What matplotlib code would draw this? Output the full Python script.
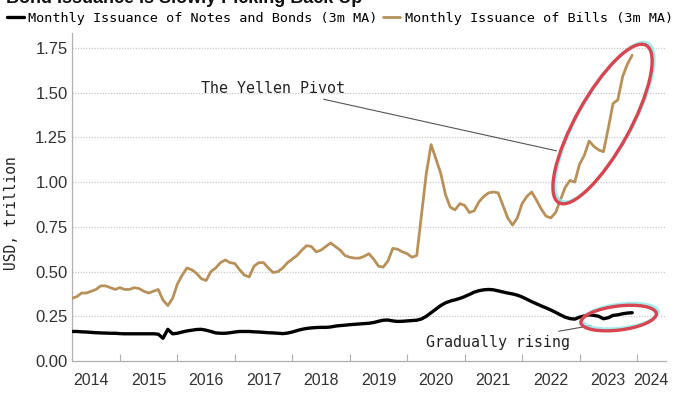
import matplotlib
matplotlib.use("Agg")
import matplotlib.pyplot as plt
import numpy as np
from matplotlib.patches import Ellipse
from matplotlib.transforms import IdentityTransform

# monthly 3m MA issuance, USD trillion, Mar 2014 .. Dec 2023
start_year, start_month = 2014, 3

bills = [
    # 2014 (Mar-Dec)
    0.35, 0.36, 0.38, 0.38, 0.39, 0.40, 0.42, 0.42, 0.41, 0.40,
    # 2015
    0.41, 0.40, 0.40, 0.41, 0.405, 0.39, 0.38, 0.39, 0.40, 0.34, 0.31, 0.35,
    # 2016
    0.43, 0.48, 0.52, 0.51, 0.49, 0.46, 0.45, 0.50, 0.52, 0.55, 0.565, 0.55,
    # 2017
    0.545, 0.51, 0.48, 0.47, 0.53, 0.55, 0.55, 0.52, 0.495, 0.50, 0.52, 0.55,
    # 2018
    0.57, 0.59, 0.62, 0.645, 0.64, 0.61, 0.62, 0.64, 0.66, 0.64, 0.62, 0.59,
    # 2019
    0.58, 0.575, 0.575, 0.585, 0.60, 0.57, 0.53, 0.525, 0.56, 0.63, 0.625, 0.61,
    # 2020
    0.60, 0.58, 0.59, 0.82, 1.05, 1.21, 1.13, 1.05, 0.93, 0.86, 0.845, 0.88,
    # 2021
    0.87, 0.83, 0.84, 0.89, 0.92, 0.94, 0.945, 0.94, 0.87, 0.80, 0.76, 0.80,
    # 2022
    0.88, 0.92, 0.945, 0.90, 0.85, 0.81, 0.80, 0.83, 0.90, 0.97, 1.01, 1.00,
    # 2023
    1.10, 1.15, 1.23, 1.20, 1.18, 1.17, 1.30, 1.44, 1.46, 1.59, 1.66, 1.71,
]

notes = [
    # 2014 (Mar-Dec)
    0.165, 0.165, 0.163, 0.162, 0.160, 0.158, 0.157, 0.156, 0.155, 0.155,
    # 2015
    0.153, 0.152, 0.152, 0.152, 0.152, 0.152, 0.152, 0.152, 0.150, 0.127, 0.177, 0.152,
    # 2016
    0.155, 0.162, 0.168, 0.172, 0.176, 0.177, 0.172, 0.165, 0.157, 0.155, 0.155, 0.158,
    # 2017
    0.162, 0.165, 0.165, 0.165, 0.163, 0.162, 0.160, 0.158, 0.157, 0.155, 0.153, 0.156,
    # 2018
    0.162, 0.170, 0.177, 0.182, 0.185, 0.187, 0.188, 0.188, 0.190, 0.195, 0.198, 0.200,
    # 2019
    0.203, 0.205, 0.207, 0.209, 0.211, 0.215, 0.222, 0.228, 0.229, 0.224, 0.221, 0.222,
    # 2020
    0.224, 0.226, 0.228, 0.235, 0.250, 0.270, 0.290, 0.310, 0.325, 0.335, 0.342, 0.350,
    # 2021
    0.360, 0.372, 0.385, 0.393, 0.398, 0.400, 0.398, 0.392, 0.386, 0.380, 0.375, 0.368,
    # 2022
    0.358, 0.345, 0.332, 0.320, 0.308, 0.297, 0.285, 0.272, 0.258, 0.245, 0.237, 0.234,
    # 2023
    0.245, 0.252, 0.258, 0.255, 0.250, 0.236, 0.242, 0.255, 0.258, 0.264, 0.268, 0.270,
]

year_labels = list(range(2014, 2025))
y_ticks = [0.00, 0.25, 0.50, 0.75, 1.00, 1.25, 1.50, 1.75]

label_notes = "Monthly Issuance of Notes and Bonds (3m MA)"
label_bills = "Monthly Issuance of Bills (3m MA)"

# decimal-year x axis
t = start_year + (start_month - 1 + np.arange(len(bills))) / 12.0
x_min, x_max = 2014.16, 2024.5

gold = "#b8915a"
mono = ["DejaVu Sans Mono"]
sans = ["Liberation Sans", "DejaVu Sans"]

fig = plt.figure(figsize=(7, 3.94), dpi=100)
ax = fig.add_axes([0.1024, 0.0838, 0.8486, 0.832])

ax.plot(t, notes, color="black", lw=2.4, solid_capstyle="round",
        label=label_notes, zorder=3)
ax.plot(t, bills, color=gold, lw=2.0, solid_capstyle="round",
        label=label_bills, zorder=3)

ax.set_xlim(x_min, x_max)
ax.set_ylim(0, 1.833)

# y axis
ax.set_yticks(y_ticks)
ax.set_yticklabels([f"{v:.2f}" for v in y_ticks], family=sans,
                   fontsize=12, color="#333333")
ax.tick_params(axis="y", length=0, pad=3)
for v in y_ticks[1:]:
    ax.axhline(v, color="#c8c8c8", lw=0.9, ls=(0, (1, 1.2)), zorder=1)
ax.set_ylabel("USD, trillion", family=mono, fontsize=10.5, color="#222222")
ax.yaxis.set_label_coords(-0.088, 0.45)

# x axis: ticks at year boundaries, labels centred in each year
ax.set_xticks([y for y in year_labels if x_min < y < x_max])
ax.set_xticklabels([])
ax.tick_params(axis="x", which="major", direction="in", length=5,
               color="#b0b0b0")
minor_pos = [min(y + 0.5, (max(y, x_min) + x_max) / 2) for y in year_labels]
ax.set_xticks(minor_pos, minor=True)
ax.set_xticklabels([str(y) for y in year_labels], minor=True, family=sans,
                   fontsize=11.5, color="#333333")
ax.tick_params(axis="x", which="minor", length=0, pad=9)

for side in ["top", "right"]:
    ax.spines[side].set_visible(False)
for side in ["left", "bottom"]:
    ax.spines[side].set_color("#b0b0b0")
    ax.spines[side].set_linewidth(0.9)

# legend + cut off headline at the very top
fig.legend(loc="center left", bbox_to_anchor=(0.006, 0.954), ncol=2,
           frameon=False, prop={"family": mono, "size": 9.7},
           handlelength=1.25, handletextpad=0.35, columnspacing=0.4,
           borderaxespad=0, borderpad=0.2)
fig.text(0.008, 1.005, "Bond Issuance Is Slowly Picking Back Up",
         fontsize=13, fontweight="bold", family=["Liberation Sans"],
         va="center", ha="left", color="#111111")

# annotations
ax.annotate("The Yellen Pivot", xy=(2022.6, 1.175), xytext=(2018.92, 1.526),
            family=mono, fontsize=10.8, ha="right", va="center",
            color="#222222",
            arrowprops=dict(arrowstyle="-", color="#555555", lw=0.8,
                            shrinkA=3, shrinkB=0))
ax.annotate("Gradually rising", xy=(2023.2, 0.198), xytext=(2022.83, 0.106),
            family=mono, fontsize=10.8, ha="right", va="center",
            color="#222222",
            arrowprops=dict(arrowstyle="-", color="#555555", lw=0.8,
                            shrinkA=2, shrinkB=0))

# hand drawn style highlight ellipses (sizes in pixels)
fig.canvas.draw()
highlights = [((2023.40, 1.325), 180, 54, 61), ((2023.68, 0.240), 76, 24, 7)]
for (cx, cy), w, h, ang in highlights:
    px, py = ax.transData.transform((cx, cy))
    ax.add_patch(Ellipse((px + 2, py + 2), w, h, angle=ang, fill=False,
                         ec="#8fe6ea", lw=2.2, alpha=0.8,
                         transform=IdentityTransform(), zorder=4))
    ax.add_patch(Ellipse((px, py), w, h, angle=ang, fill=False,
                         ec="#d64550", lw=2.4,
                         transform=IdentityTransform(), zorder=5))

fig.savefig("out.png", dpi=100)
